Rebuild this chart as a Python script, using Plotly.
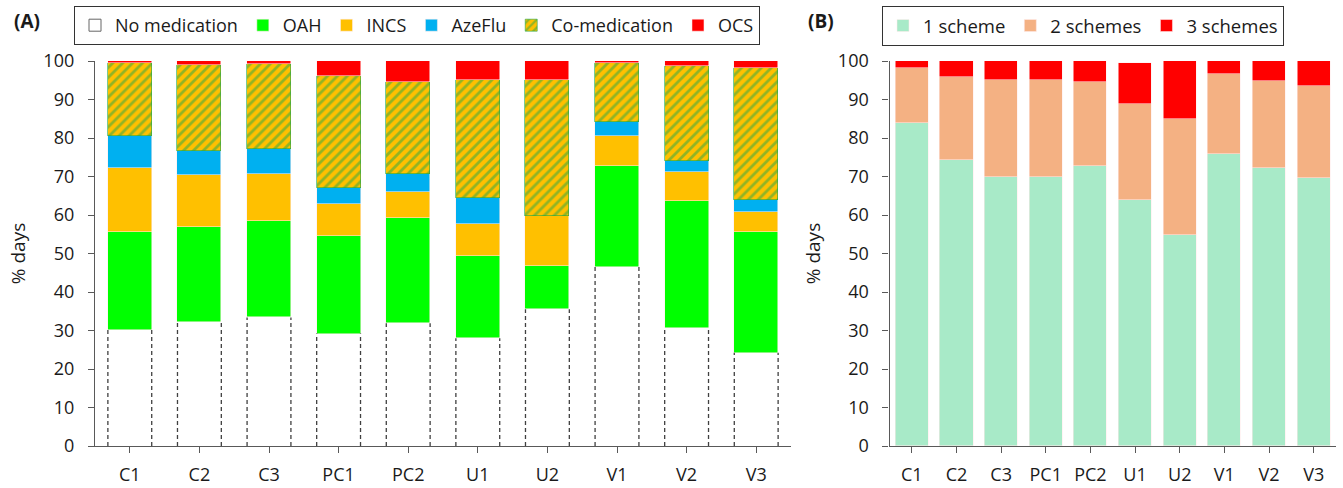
import numpy as np
import plotly.graph_objects as go

# ---------------- data ----------------
categories = ["C1", "C2", "C3", "PC1", "PC2", "U1", "U2", "V1", "V2", "V3"]

# Panel A (% days, stacked)
no_medication = [30.1, 32.3, 33.4, 29.2, 31.9, 28.0, 35.5, 46.5, 30.6, 24.2]
oah           = [25.4, 24.5, 25.1, 25.3, 27.4, 21.3, 11.3, 26.3, 33.0, 31.3]
incs          = [16.6, 13.6, 12.1,  8.4,  6.8,  8.4, 13.0,  7.8,  7.6,  5.3]
azeflu        = [ 8.4,  6.1,  6.6,  4.2,  4.5,  6.6,  0.0,  3.6,  2.8,  3.0]
co_medication = [19.1, 22.4, 21.9, 29.0, 24.0, 30.7, 35.3, 15.4, 24.7, 34.4]
ocs           = [ 0.4,  1.1,  0.9,  3.9,  5.4,  5.0,  4.9,  0.4,  1.3,  1.8]

# Panel B (% days, stacked)
scheme1 = [84.0, 74.2, 69.9, 69.9, 72.6, 63.8, 54.9, 75.8, 72.2, 69.7]
scheme2 = [14.3, 21.7, 25.2, 25.2, 21.9, 25.1, 30.0, 20.7, 22.7, 23.9]
scheme3 = [ 1.7,  4.1,  4.9,  4.9,  5.5, 10.7, 15.0,  3.5,  5.1,  6.4]

y_ticks = [0, 10, 20, 30, 40, 50, 60, 70, 80, 90, 100]

# ---------------- styling ----------------
FONT = "Open Sans"
TXT = "#1a1a1a"
W, H = 1343, 488
wA = 0.63
wB = 0.74

x = np.arange(len(categories))

fig = go.Figure()

# --- Panel A ---
fig.add_trace(go.Bar(x=x, y=no_medication, width=wA, marker=dict(color="white", line=dict(width=0)),
                     showlegend=False, xaxis="x", yaxis="y", hoverinfo="skip"))
# legend entry for "No medication"
fig.add_trace(go.Bar(x=[None], y=[None], name="No medication",
                     marker=dict(color="white", line=dict(color="#666666", width=1)),
                     legend="legend", xaxis="x", yaxis="y"))

def segA(vals, name, color, line_color="rgba(255,235,235,0.9)", pattern=None):
    m = dict(color=color, line=dict(color=line_color, width=0.6))
    if pattern is not None:
        m["pattern"] = pattern
    fig.add_trace(go.Bar(x=x, y=vals, width=wA, name=name, marker=m,
                         legend="legend", xaxis="x", yaxis="y"))

segA(oah, "OAH", "#00FF00")
segA(incs, "INCS", "#FFC000")
segA(azeflu, "AzeFlu", "#00B0F0")
segA(co_medication, "Co-medication", "#FFC000", line_color="#1FA84A",
     pattern=dict(shape="/", fgcolor="#1FA84A", bgcolor="#FFC000", size=7, solidity=0.4, fillmode="overlay"))
segA(ocs, "OCS", "#FF0000")

# dashed side borders of the "No medication" bars, derived from data
dx, dy = [], []
for xi, v in zip(x, no_medication):
    for side in (-wA / 2, wA / 2):
        dx += [xi + side, xi + side, None]
        dy += [0, v, None]
fig.add_trace(go.Scatter(x=dx, y=dy, mode="lines", line=dict(color="#404040", width=1.3, dash="4px,3px"),
                         showlegend=False, xaxis="x", yaxis="y", hoverinfo="skip"))

# --- Panel B ---
for vals, name, color in [(scheme1, "1 scheme", "#A8EAC8"),
                          (scheme2, "2 schemes", "#F4B183"),
                          (scheme3, "3 schemes", "#FF0000")]:
    fig.add_trace(go.Bar(x=x, y=vals, width=wB, name=name,
                         marker=dict(color=color, line=dict(color="rgba(255,235,235,0.9)", width=0.6)),
                         legend="legend2", xaxis="x2", yaxis="y2"))

# ---------------- layout ----------------
y0 = (H - 446) / H
y1 = (H - 61) / H
axis_common = dict(showgrid=False, zeroline=False, showline=True, linecolor="#595959", linewidth=1.3,
                   ticks="outside", tickcolor="#595959", ticklen=6, tickwidth=1.3,
                   tickfont=dict(family=FONT, size=18, color=TXT), automargin=False)

xa = dict(axis_common, range=[-0.5, len(categories) - 0.5], tickvals=x, ticktext=categories,
          ticklabelstandoff=6)
ya = dict(axis_common, range=[0, 100], tickvals=y_ticks, ticklabelstandoff=10,
          title=dict(text="% days", font=dict(family=FONT, size=19, color=TXT), standoff=12))

fig.update_layout(
    width=W, height=H,
    margin=dict(l=0, r=0, t=0, b=0),
    paper_bgcolor="white", plot_bgcolor="white",
    barmode="stack", bargap=0,
    font=dict(family=FONT, color=TXT),
    xaxis=dict(xa, domain=[95 / W, 791 / W], anchor="y"),
    yaxis=dict(ya, domain=[y0, y1], anchor="x"),
    xaxis2=dict(xa, domain=[889.5 / W, 1336 / W], anchor="y2"),
    yaxis2=dict(ya, domain=[y0, y1], anchor="x2"),
    legend=dict(orientation="h", x=74 / W, y=1 - 6 / H, xanchor="left", yanchor="top",
                bordercolor="#333333", borderwidth=1, font=dict(family=FONT, size=18, color=TXT),
                traceorder="normal", itemwidth=30, bgcolor="white"),
    legend2=dict(orientation="h", x=882 / W, y=1 - 6 / H, xanchor="left", yanchor="top",
                 bordercolor="#333333", borderwidth=1, font=dict(family=FONT, size=18.5, color=TXT),
                 traceorder="normal", itemwidth=30, bgcolor="white"),
    annotations=[
        dict(text="<b>(A)</b>", x=12 / W, y=1 - 21 / H, xref="paper", yref="paper", xanchor="left",
             yanchor="middle", showarrow=False, font=dict(family=FONT, size=19, color=TXT)),
        dict(text="<b>(B)</b>", x=806 / W, y=1 - 21 / H, xref="paper", yref="paper", xanchor="left",
             yanchor="middle", showarrow=False, font=dict(family=FONT, size=19, color=TXT)),
    ],
)

fig.write_html("out.html", config={"displayModeBar": False},
               post_script="document.body.style.margin='0px';")
